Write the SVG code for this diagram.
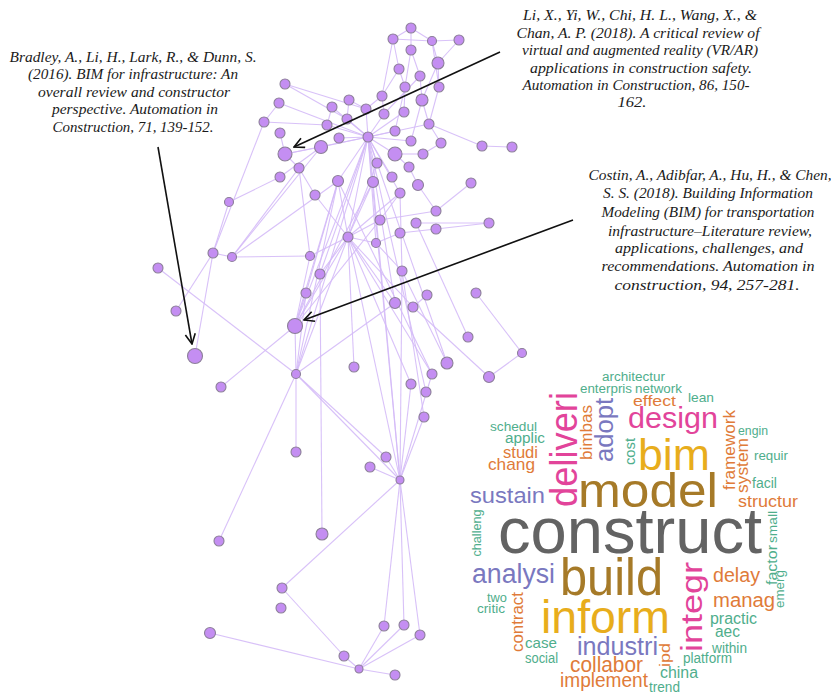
<svg xmlns="http://www.w3.org/2000/svg" width="831" height="694" viewBox="0 0 831 694">
<style>
.e line{stroke:#d4baf7;stroke-width:1.1;stroke-opacity:0.9}
.nd circle{fill:#c48ef2;stroke:#8c7f99;stroke-width:1.1}
.ref{font-family:"Liberation Serif","Times New Roman",serif;font-style:italic;font-size:14px;fill:#1a1a1a;text-anchor:middle}
.arr{stroke:#111;stroke-width:1.6;fill:none}
.w{font-family:"Liberation Sans",Arial,sans-serif}
.g{fill:#4fae8c}.o{fill:#e07b39}.b{fill:#7a78bf}.p{fill:#e2449a}.y{fill:#e8ad1c}.br{fill:#a67a28}.k{fill:#636363}
</style>
<defs>
<marker id="ah" viewBox="0 0 12 12" refX="11" refY="6" markerWidth="12" markerHeight="12" markerUnits="userSpaceOnUse" orient="auto">
<path d="M1,1 L11,6 L1,11" fill="none" stroke="#111" stroke-width="1.6"/>
</marker>
</defs>
<rect width="831" height="694" fill="#fff"/>
<g id="connectors" class="e">
<line x1="411" y1="28" x2="393" y2="39"/><line x1="411" y1="28" x2="432" y2="41"/><line x1="393" y1="39" x2="432" y2="41"/><line x1="432" y1="41" x2="459" y2="40"/>
<line x1="411" y1="28" x2="411" y2="50"/><line x1="393" y1="39" x2="399" y2="69"/><line x1="393" y1="39" x2="382" y2="96"/><line x1="432" y1="41" x2="438" y2="63"/>
<line x1="432" y1="41" x2="439" y2="87"/><line x1="459" y1="40" x2="438" y2="63"/><line x1="411" y1="50" x2="420" y2="76"/><line x1="411" y1="50" x2="405" y2="87"/>
<line x1="438" y1="63" x2="422" y2="100"/><line x1="438" y1="63" x2="439" y2="87"/><line x1="399" y1="69" x2="405" y2="87"/><line x1="399" y1="69" x2="382" y2="96"/>
<line x1="420" y1="76" x2="422" y2="100"/><line x1="420" y1="76" x2="384" y2="114"/><line x1="439" y1="87" x2="429" y2="124"/><line x1="405" y1="87" x2="404" y2="112"/>
<line x1="405" y1="87" x2="395" y2="131"/><line x1="382" y1="96" x2="384" y2="114"/><line x1="382" y1="96" x2="366" y2="109"/><line x1="349" y1="100" x2="347" y2="119"/>
<line x1="349" y1="100" x2="366" y2="109"/><line x1="422" y1="100" x2="429" y2="124"/><line x1="422" y1="100" x2="411" y2="141"/><line x1="285" y1="84" x2="347" y2="119"/>
<line x1="285" y1="84" x2="366" y2="109"/><line x1="279" y1="103" x2="264" y2="122"/><line x1="279" y1="103" x2="368" y2="137"/><line x1="332" y1="107" x2="368" y2="137"/>
<line x1="332" y1="107" x2="327" y2="125"/><line x1="366" y1="109" x2="368" y2="137"/><line x1="404" y1="112" x2="368" y2="137"/><line x1="384" y1="114" x2="368" y2="137"/>
<line x1="347" y1="119" x2="368" y2="137"/><line x1="264" y1="122" x2="327" y2="125"/><line x1="327" y1="125" x2="368" y2="137"/><line x1="395" y1="131" x2="368" y2="137"/>
<line x1="339" y1="138" x2="368" y2="137"/><line x1="411" y1="141" x2="368" y2="137"/><line x1="429" y1="124" x2="368" y2="137"/><line x1="429" y1="124" x2="441" y2="143"/>
<line x1="429" y1="124" x2="482" y2="146"/><line x1="482" y1="146" x2="512" y2="147"/><line x1="441" y1="143" x2="423" y2="154"/><line x1="280" y1="133" x2="285" y2="154"/>
<line x1="321" y1="147" x2="368" y2="137"/><line x1="285" y1="154" x2="321" y2="147"/><line x1="285" y1="154" x2="299" y2="168"/><line x1="299" y1="168" x2="315" y2="195"/>
<line x1="285" y1="154" x2="368" y2="137"/><line x1="395" y1="154" x2="368" y2="137"/><line x1="395" y1="154" x2="423" y2="154"/><line x1="395" y1="154" x2="409" y2="167"/>
<line x1="377" y1="163" x2="368" y2="137"/><line x1="377" y1="163" x2="373" y2="182"/><line x1="409" y1="167" x2="418" y2="185"/><line x1="392" y1="177" x2="368" y2="137"/>
<line x1="373" y1="182" x2="368" y2="137"/><line x1="338" y1="181" x2="368" y2="137"/><line x1="400" y1="193" x2="368" y2="137"/><line x1="471" y1="183" x2="436" y2="211"/>
<line x1="418" y1="185" x2="436" y2="211"/><line x1="400" y1="193" x2="380" y2="220"/><line x1="436" y1="211" x2="380" y2="220"/><line x1="416" y1="223" x2="489" y2="223"/>
<line x1="436" y1="229" x2="489" y2="223"/><line x1="400" y1="233" x2="436" y2="229"/><line x1="280" y1="177" x2="229" y2="202"/><line x1="280" y1="177" x2="321" y2="147"/>
<line x1="348" y1="237" x2="368" y2="137"/><line x1="348" y1="237" x2="338" y2="181"/><line x1="348" y1="237" x2="373" y2="182"/><line x1="348" y1="237" x2="377" y2="163"/>
<line x1="348" y1="237" x2="380" y2="220"/><line x1="348" y1="237" x2="376" y2="243"/><line x1="348" y1="237" x2="400" y2="193"/><line x1="348" y1="237" x2="315" y2="195"/>
<line x1="376" y1="243" x2="400" y2="233"/><line x1="376" y1="243" x2="402" y2="271"/><line x1="376" y1="243" x2="368" y2="137"/><line x1="213" y1="253" x2="229" y2="202"/>
<line x1="213" y1="253" x2="232" y2="257"/><line x1="213" y1="253" x2="264" y2="122"/><line x1="232" y1="257" x2="310" y2="256"/><line x1="232" y1="257" x2="299" y2="168"/>
<line x1="232" y1="257" x2="321" y2="147"/><line x1="232" y1="257" x2="338" y2="181"/><line x1="310" y1="256" x2="348" y2="237"/><line x1="310" y1="256" x2="299" y2="168"/>
<line x1="310" y1="256" x2="295" y2="326"/><line x1="320" y1="274" x2="348" y2="237"/><line x1="320" y1="274" x2="368" y2="137"/><line x1="306" y1="293" x2="295" y2="326"/>
<line x1="306" y1="293" x2="338" y2="181"/><line x1="402" y1="271" x2="447" y2="363"/><line x1="402" y1="271" x2="400" y2="193"/><line x1="427" y1="295" x2="413" y2="307"/>
<line x1="413" y1="307" x2="348" y2="237"/><line x1="413" y1="307" x2="489" y2="377"/><line x1="395" y1="303" x2="348" y2="237"/><line x1="395" y1="303" x2="368" y2="137"/>
<line x1="476" y1="293" x2="522" y2="353"/><line x1="522" y1="353" x2="489" y2="377"/><line x1="468" y1="337" x2="416" y2="223"/><line x1="447" y1="363" x2="368" y2="137"/>
<line x1="432" y1="374" x2="348" y2="237"/><line x1="432" y1="374" x2="338" y2="181"/><line x1="411" y1="384" x2="348" y2="237"/><line x1="426" y1="392" x2="368" y2="137"/>
<line x1="354" y1="367" x2="348" y2="237"/><line x1="424" y1="417" x2="400" y2="480"/><line x1="424" y1="417" x2="402" y2="271"/><line x1="176" y1="311" x2="213" y2="253"/>
<line x1="195" y1="356" x2="213" y2="253"/><line x1="158" y1="268" x2="296" y2="374"/><line x1="221" y1="387" x2="295" y2="326"/><line x1="295" y1="326" x2="296" y2="374"/>
<line x1="295" y1="326" x2="348" y2="237"/><line x1="295" y1="326" x2="368" y2="137"/><line x1="295" y1="326" x2="338" y2="181"/><line x1="295" y1="326" x2="373" y2="182"/>
<line x1="295" y1="326" x2="380" y2="220"/><line x1="296" y1="374" x2="368" y2="137"/><line x1="296" y1="374" x2="348" y2="237"/><line x1="296" y1="374" x2="338" y2="181"/>
<line x1="296" y1="374" x2="395" y2="303"/><line x1="296" y1="374" x2="386" y2="457"/><line x1="296" y1="374" x2="400" y2="480"/><line x1="296" y1="374" x2="296" y2="452"/>
<line x1="296" y1="374" x2="306" y2="293"/><line x1="219" y1="541" x2="296" y2="374"/><line x1="322" y1="534" x2="320" y2="274"/><line x1="400" y1="480" x2="348" y2="237"/>
<line x1="400" y1="480" x2="368" y2="137"/><line x1="400" y1="480" x2="373" y2="182"/><line x1="400" y1="480" x2="402" y2="271"/><line x1="400" y1="480" x2="432" y2="374"/>
<line x1="400" y1="480" x2="411" y2="384"/><line x1="400" y1="480" x2="370" y2="467"/><line x1="400" y1="480" x2="386" y2="457"/><line x1="400" y1="480" x2="282" y2="588"/>
<line x1="400" y1="480" x2="384" y2="626"/><line x1="400" y1="480" x2="404" y2="625"/><line x1="400" y1="480" x2="420" y2="635"/><line x1="282" y1="588" x2="344" y2="656"/>
<line x1="344" y1="656" x2="359" y2="669"/><line x1="359" y1="669" x2="210" y2="633"/><line x1="359" y1="669" x2="395" y2="675"/><line x1="359" y1="669" x2="384" y2="626"/>
<line x1="359" y1="669" x2="404" y2="625"/><line x1="359" y1="669" x2="420" y2="635"/>
</g>
<g id="nodes" class="nd">
<g id="n1"><circle cx="411" cy="28" r="5"/></g><g id="n2"><circle cx="393" cy="39" r="5"/></g><g id="n3"><circle cx="432" cy="41" r="4.5"/></g><g id="n4"><circle cx="459" cy="40" r="5"/></g>
<g id="n5"><circle cx="411" cy="50" r="5"/></g><g id="n6"><circle cx="438" cy="63" r="6"/></g><g id="n7"><circle cx="399" cy="69" r="5"/></g><g id="n8"><circle cx="420" cy="76" r="5"/></g>
<g id="n9"><circle cx="439" cy="87" r="5"/></g><g id="n10"><circle cx="285" cy="84" r="5"/></g><g id="n11"><circle cx="405" cy="87" r="5"/></g><g id="n12"><circle cx="382" cy="96" r="5"/></g>
<g id="n13"><circle cx="349" cy="100" r="5"/></g><g id="n14"><circle cx="422" cy="100" r="6"/></g><g id="n15"><circle cx="279" cy="103" r="5"/></g><g id="n16"><circle cx="332" cy="107" r="5"/></g>
<g id="n17"><circle cx="366" cy="109" r="5"/></g><g id="n18"><circle cx="404" cy="112" r="5"/></g><g id="n19"><circle cx="384" cy="114" r="5"/></g><g id="n20"><circle cx="347" cy="119" r="5"/></g>
<g id="n21"><circle cx="264" cy="122" r="5"/></g><g id="n22"><circle cx="327" cy="125" r="5"/></g><g id="n23"><circle cx="429" cy="124" r="5"/></g><g id="n24"><circle cx="395" cy="131" r="5"/></g>
<g id="n25"><circle cx="280" cy="133" r="5"/></g><g id="n26"><circle cx="339" cy="138" r="5"/></g><g id="n27"><circle cx="368" cy="137" r="5"/></g><g id="n28"><circle cx="411" cy="141" r="5"/></g>
<g id="n29"><circle cx="441" cy="143" r="5"/></g><g id="n30"><circle cx="482" cy="146" r="5"/></g><g id="n31"><circle cx="512" cy="147" r="5"/></g><g id="n32"><circle cx="321" cy="147" r="6.5"/></g>
<g id="n33"><circle cx="285" cy="154" r="7"/></g><g id="n34"><circle cx="395" cy="154" r="7"/></g><g id="n35"><circle cx="423" cy="154" r="5"/></g><g id="n36"><circle cx="299" cy="168" r="5"/></g>
<g id="n37"><circle cx="377" cy="163" r="5"/></g><g id="n38"><circle cx="409" cy="167" r="5"/></g><g id="n39"><circle cx="280" cy="177" r="5"/></g><g id="n40"><circle cx="338" cy="181" r="5.5"/></g>
<g id="n41"><circle cx="373" cy="182" r="5.5"/></g><g id="n42"><circle cx="392" cy="177" r="5"/></g><g id="n43"><circle cx="418" cy="185" r="5.5"/></g><g id="n44"><circle cx="471" cy="183" r="5"/></g>
<g id="n45"><circle cx="400" cy="193" r="5"/></g><g id="n46"><circle cx="315" cy="195" r="5"/></g><g id="n47"><circle cx="229" cy="202" r="4.5"/></g><g id="n48"><circle cx="436" cy="211" r="5"/></g>
<g id="n49"><circle cx="380" cy="220" r="5"/></g><g id="n50"><circle cx="416" cy="223" r="5"/></g><g id="n51"><circle cx="436" cy="229" r="5"/></g><g id="n52"><circle cx="489" cy="223" r="5"/></g>
<g id="n53"><circle cx="348" cy="237" r="5"/></g><g id="n54"><circle cx="400" cy="233" r="5"/></g><g id="n55"><circle cx="376" cy="243" r="4.5"/></g><g id="n56"><circle cx="213" cy="253" r="5"/></g>
<g id="n57"><circle cx="232" cy="257" r="4.5"/></g><g id="n58"><circle cx="310" cy="256" r="4.5"/></g><g id="n59"><circle cx="158" cy="268" r="5"/></g><g id="n60"><circle cx="320" cy="274" r="5"/></g>
<g id="n61"><circle cx="402" cy="271" r="5"/></g><g id="n62"><circle cx="306" cy="293" r="5"/></g><g id="n63"><circle cx="427" cy="295" r="5"/></g><g id="n64"><circle cx="476" cy="293" r="5"/></g>
<g id="n65"><circle cx="395" cy="303" r="5.5"/></g><g id="n66"><circle cx="413" cy="307" r="5"/></g><g id="n67"><circle cx="176" cy="311" r="5"/></g><g id="n68"><circle cx="295" cy="326" r="7.5"/></g>
<g id="n69"><circle cx="195" cy="356" r="7.5"/></g><g id="n70"><circle cx="468" cy="337" r="5"/></g><g id="n71"><circle cx="522" cy="353" r="4.5"/></g><g id="n72"><circle cx="354" cy="367" r="5"/></g>
<g id="n73"><circle cx="447" cy="363" r="6"/></g><g id="n74"><circle cx="432" cy="374" r="5"/></g><g id="n75"><circle cx="489" cy="377" r="5.5"/></g><g id="n76"><circle cx="296" cy="374" r="4.5"/></g>
<g id="n77"><circle cx="411" cy="384" r="5"/></g><g id="n78"><circle cx="426" cy="392" r="5"/></g><g id="n79"><circle cx="221" cy="387" r="5"/></g><g id="n80"><circle cx="424" cy="417" r="5"/></g>
<g id="n81"><circle cx="296" cy="452" r="5"/></g><g id="n82"><circle cx="386" cy="457" r="5"/></g><g id="n83"><circle cx="370" cy="467" r="5"/></g><g id="n84"><circle cx="400" cy="480" r="4"/></g>
<g id="n85"><circle cx="219" cy="541" r="5"/></g><g id="n86"><circle cx="322" cy="534" r="6"/></g><g id="n87"><circle cx="282" cy="588" r="5"/></g><g id="n88"><circle cx="281" cy="608" r="5"/></g>
<g id="n89"><circle cx="210" cy="633" r="5.5"/></g><g id="n90"><circle cx="384" cy="626" r="5"/></g><g id="n91"><circle cx="404" cy="625" r="5"/></g><g id="n92"><circle cx="420" cy="635" r="5"/></g>
<g id="n93"><circle cx="344" cy="656" r="5"/></g><g id="n94"><circle cx="359" cy="669" r="4"/></g><g id="n95"><circle cx="395" cy="675" r="5"/></g>
</g>
<g id="annotation-arrows">
<line class="arr" x1="158" y1="147" x2="192" y2="344" marker-end="url(#ah)"/>
<line class="arr" x1="500" y1="52" x2="294" y2="147" marker-end="url(#ah)"/>
<line class="arr" x1="573" y1="220" x2="304" y2="320" marker-end="url(#ah)"/>
</g>
<g id="ref-bradley" class="ref">
<text x="133" y="62" textLength="247" lengthAdjust="spacingAndGlyphs">Bradley, A., Li, H., Lark, R., &amp; Dunn, S.</text>
<text x="133" y="79" textLength="210" lengthAdjust="spacingAndGlyphs">(2016). BIM for infrastructure: An</text>
<text x="134" y="97" textLength="192" lengthAdjust="spacingAndGlyphs">overall review and constructor</text>
<text x="135" y="114" textLength="166" lengthAdjust="spacingAndGlyphs">perspective. Automation in</text>
<text x="133" y="132" textLength="161" lengthAdjust="spacingAndGlyphs">Construction, 71, 139-152.</text>
</g>
<g id="ref-li" class="ref">
<text x="640" y="20" textLength="234" lengthAdjust="spacingAndGlyphs">Li, X., Yi, W., Chi, H. L., Wang, X., &amp;</text>
<text x="638" y="38" textLength="243" lengthAdjust="spacingAndGlyphs">Chan, A. P. (2018). A critical review of</text>
<text x="640" y="55" textLength="236" lengthAdjust="spacingAndGlyphs">virtual and augmented reality (VR/AR)</text>
<text x="641" y="73" textLength="222" lengthAdjust="spacingAndGlyphs">applications in construction safety.</text>
<text x="636" y="90" textLength="227" lengthAdjust="spacingAndGlyphs">Automation in Construction, 86, 150-</text>
<text x="632" y="107" textLength="29" lengthAdjust="spacingAndGlyphs">162.</text>
</g>
<g id="ref-costin" class="ref">
<text x="710" y="180" textLength="243" lengthAdjust="spacingAndGlyphs">Costin, A., Adibfar, A., Hu, H., &amp; Chen,</text>
<text x="708" y="198" textLength="210" lengthAdjust="spacingAndGlyphs">S. S. (2018). Building Information</text>
<text x="708" y="217" textLength="213" lengthAdjust="spacingAndGlyphs">Modeling (BIM) for transportation</text>
<text x="710" y="236" textLength="204" lengthAdjust="spacingAndGlyphs">infrastructure–Literature review,</text>
<text x="709" y="253" textLength="188" lengthAdjust="spacingAndGlyphs">applications, challenges, and</text>
<text x="708" y="271" textLength="213" lengthAdjust="spacingAndGlyphs">recommendations. Automation in</text>
<text x="707" y="290" textLength="185" lengthAdjust="spacingAndGlyphs">construction, 94, 257-281.</text>
</g>
<g id="wordcloud" class="w">
<text class="g" x="602" y="381" font-size="12" textLength="63" lengthAdjust="spacingAndGlyphs">architectur</text>
<text class="g" x="580" y="393" font-size="12" textLength="52" lengthAdjust="spacingAndGlyphs">enterpris</text>
<text class="g" x="635" y="393" font-size="12" textLength="47" lengthAdjust="spacingAndGlyphs">network</text>
<text class="o" x="633" y="406" font-size="15" textLength="43" lengthAdjust="spacingAndGlyphs">effect</text>
<text class="g" x="688" y="402" font-size="13" textLength="26" lengthAdjust="spacingAndGlyphs">lean</text>
<text class="p" x="628" y="428" font-size="30" textLength="90" lengthAdjust="spacingAndGlyphs">design</text>
<text class="g" x="490" y="431" font-size="13" textLength="47" lengthAdjust="spacingAndGlyphs">schedul</text>
<text class="g" x="505" y="443" font-size="14" textLength="40" lengthAdjust="spacingAndGlyphs">applic</text>
<text class="o" x="503" y="458" font-size="16" textLength="35" lengthAdjust="spacingAndGlyphs">studi</text>
<text class="o" x="488" y="470" font-size="17" textLength="47" lengthAdjust="spacingAndGlyphs">chang</text>
<text class="y" x="638" y="470" font-size="45" textLength="72" lengthAdjust="spacingAndGlyphs">bim</text>
<text class="br" x="578" y="507" font-size="48" textLength="140" lengthAdjust="spacingAndGlyphs">model</text>
<text class="b" x="470" y="503" font-size="22" textLength="75" lengthAdjust="spacingAndGlyphs">sustain</text>
<text class="g" x="738" y="435" font-size="13" textLength="30" lengthAdjust="spacingAndGlyphs">engin</text>
<text class="g" x="754" y="460" font-size="13" textLength="34" lengthAdjust="spacingAndGlyphs">requir</text>
<text class="g" x="752" y="488" font-size="14" textLength="25" lengthAdjust="spacingAndGlyphs">facil</text>
<text class="o" x="738" y="507" font-size="17" textLength="60" lengthAdjust="spacingAndGlyphs">structur</text>
<text class="k" x="498" y="553" font-size="65" textLength="264" lengthAdjust="spacingAndGlyphs">construct</text>
<text class="b" x="472" y="583" font-size="27" textLength="83" lengthAdjust="spacingAndGlyphs">analysi</text>
<text class="br" x="560" y="595" font-size="51" textLength="103" lengthAdjust="spacingAndGlyphs">build</text>
<text class="o" x="713" y="582" font-size="20" textLength="47" lengthAdjust="spacingAndGlyphs">delay</text>
<text class="o" x="713" y="607" font-size="20" textLength="62" lengthAdjust="spacingAndGlyphs">manag</text>
<text class="g" x="487" y="602" font-size="13" textLength="20" lengthAdjust="spacingAndGlyphs">two</text>
<text class="g" x="477" y="613" font-size="13" textLength="28" lengthAdjust="spacingAndGlyphs">critic</text>
<text class="y" x="541" y="633" font-size="46" textLength="129" lengthAdjust="spacingAndGlyphs">inform</text>
<text class="g" x="710" y="624" font-size="16" textLength="47" lengthAdjust="spacingAndGlyphs">practic</text>
<text class="g" x="715" y="637" font-size="16" textLength="25" lengthAdjust="spacingAndGlyphs">aec</text>
<text class="g" x="525" y="648" font-size="15" textLength="32" lengthAdjust="spacingAndGlyphs">case</text>
<text class="b" x="577" y="655" font-size="26" textLength="81" lengthAdjust="spacingAndGlyphs">industri</text>
<text class="g" x="712" y="653" font-size="14" textLength="35" lengthAdjust="spacingAndGlyphs">within</text>
<text class="g" x="525" y="663" font-size="14" textLength="33" lengthAdjust="spacingAndGlyphs">social</text>
<text class="g" x="683" y="663" font-size="14" textLength="49" lengthAdjust="spacingAndGlyphs">platform</text>
<text class="o" x="570" y="672" font-size="22" textLength="73" lengthAdjust="spacingAndGlyphs">collabor</text>
<text class="g" x="660" y="678" font-size="16" textLength="38" lengthAdjust="spacingAndGlyphs">china</text>
<text class="o" x="560" y="687" font-size="20" textLength="88" lengthAdjust="spacingAndGlyphs">implement</text>
<text class="g" x="649" y="692" font-size="14" textLength="31" lengthAdjust="spacingAndGlyphs">trend</text>
<text class="p" transform="translate(577,449.5) rotate(-90)" text-anchor="middle" font-size="38" textLength="115" lengthAdjust="spacingAndGlyphs">deliveri</text>
<text class="b" transform="translate(613,430) rotate(-90)" text-anchor="middle" font-size="25" textLength="64" lengthAdjust="spacingAndGlyphs">adopt</text>
<text class="o" transform="translate(592,432.5) rotate(-90)" text-anchor="middle" font-size="17" textLength="55" lengthAdjust="spacingAndGlyphs">bimbas</text>
<text class="g" transform="translate(635,451.5) rotate(-90)" text-anchor="middle" font-size="15" textLength="27" lengthAdjust="spacingAndGlyphs">cost</text>
<text class="o" transform="translate(735,450) rotate(-90)" text-anchor="middle" font-size="17" textLength="80" lengthAdjust="spacingAndGlyphs">framework</text>
<text class="o" transform="translate(748,465.5) rotate(-90)" text-anchor="middle" font-size="17" textLength="55" lengthAdjust="spacingAndGlyphs">system</text>
<text class="g" transform="translate(481,533) rotate(-90)" text-anchor="middle" font-size="12.5" textLength="47" lengthAdjust="spacingAndGlyphs">challeng</text>
<text class="g" transform="translate(777,527) rotate(-90)" text-anchor="middle" font-size="13" textLength="32" lengthAdjust="spacingAndGlyphs">small</text>
<text class="g" transform="translate(777,565) rotate(-90)" text-anchor="middle" font-size="14" textLength="40" lengthAdjust="spacingAndGlyphs">factor</text>
<text class="g" transform="translate(784,589) rotate(-90)" text-anchor="middle" font-size="13" textLength="38" lengthAdjust="spacingAndGlyphs">emerg</text>
<text class="p" transform="translate(702,607) rotate(-90)" text-anchor="middle" font-size="30" textLength="90" lengthAdjust="spacingAndGlyphs">integr</text>
<text class="o" transform="translate(523,622) rotate(-90)" text-anchor="middle" font-size="17" textLength="60" lengthAdjust="spacingAndGlyphs">contract</text>
<text class="o" transform="translate(670,655) rotate(-90)" text-anchor="middle" font-size="15" textLength="24" lengthAdjust="spacingAndGlyphs">ipd</text>
</g>
</svg>
